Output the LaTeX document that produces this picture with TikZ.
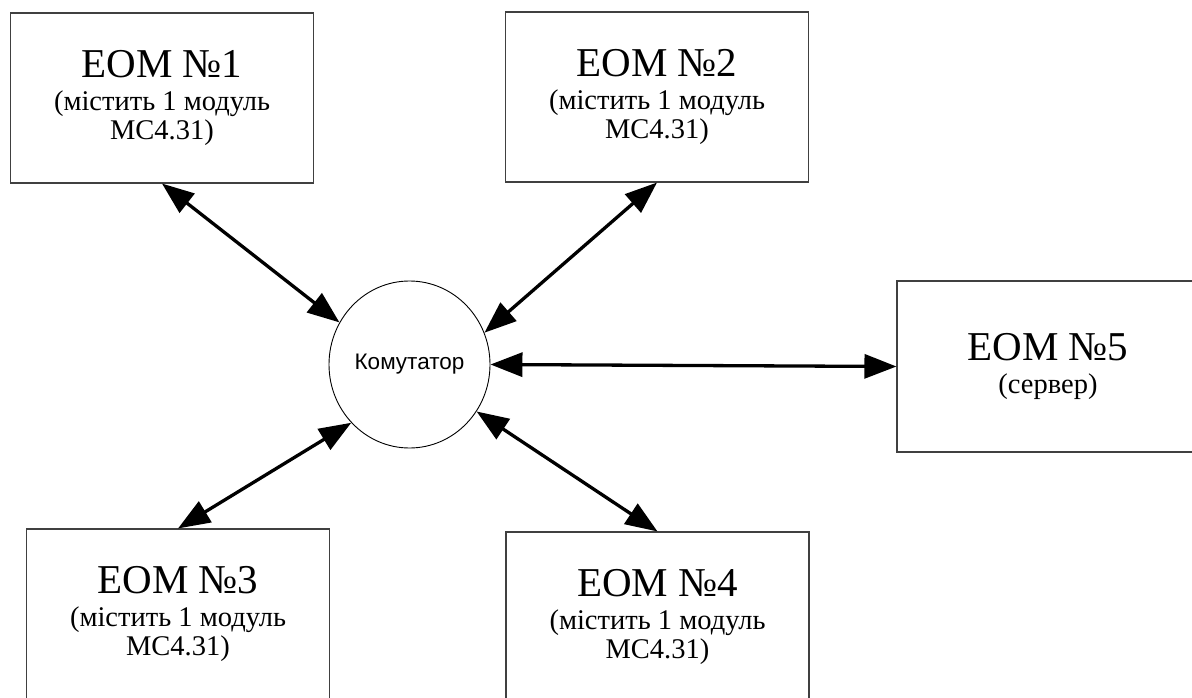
\documentclass[tikz,border=0pt]{standalone}
\usepackage{fontspec}
\setmainfont{Liberation Serif}
\newfontfamily\labelsans{Liberation Sans}
\usetikzlibrary{arrows.meta,shapes.geometric}

\tikzset{
  pc/.style={draw=black!75, line width=1.1pt, fill=white,
    minimum width=303pt, minimum height=170pt, inner sep=0pt,
    align=center, font=\fontsize{28.5}{29}\selectfont},
  hub/.style={draw=black, line width=0.9pt, ellipse, fill=white,
    minimum width=161pt, minimum height=167pt, inner sep=0pt,
    font=\labelsans\fontsize{22.5}{24}\selectfont},
  link/.style={line width=3.3pt, black,
    {Triangle[length=32pt,width=24pt]}-{Triangle[length=32pt,width=24pt]}}
}
\newcommand{\pctitle}[1]{{\fontsize{41}{34}\selectfont #1}}

\begin{document}
\begin{tikzpicture}[x=1pt,y=-1pt]
  \clip (0,0) rectangle (1192,698);
  \fill[white] (0,0) rectangle (1192,698);

  % workstations
  \node[pc] (e1) at (162,98)    {\pctitle{ЕОМ №1}\\[4pt](містить 1 модуль\\МС4.31)};
  \node[pc] (e2) at (657,97)    {\pctitle{ЕОМ №2}\\[4pt](містить 1 модуль\\МС4.31)};
  \node[pc] (e3) at (178,614)   {\pctitle{ЕОМ №3}\\[4pt](містить 1 модуль\\МС4.31)};
  \node[pc] (e4) at (657.5,617) {\pctitle{ЕОМ №4}\\[4pt](містить 1 модуль\\МС4.31)};
  \node[pc, minimum width=302pt, minimum height=171pt] (e5) at (1048,366.5)
        {\pctitle{ЕОМ №5}\\[4pt](сервер)};

  % switch
  \node[hub] (sw) at (409.5,364.5) {Комутатор};

  % links
  \draw[link] (e1.south) -- (sw.149);
  \draw[link] (e2.south) -- (sw.23.6);
  \draw[link] (sw.225)   -- (e3.north);
  \draw[link] (sw.-35)   -- (e4.north);
  \draw[link] (sw.0)     -- (e5.west);
\end{tikzpicture}
\end{document}
